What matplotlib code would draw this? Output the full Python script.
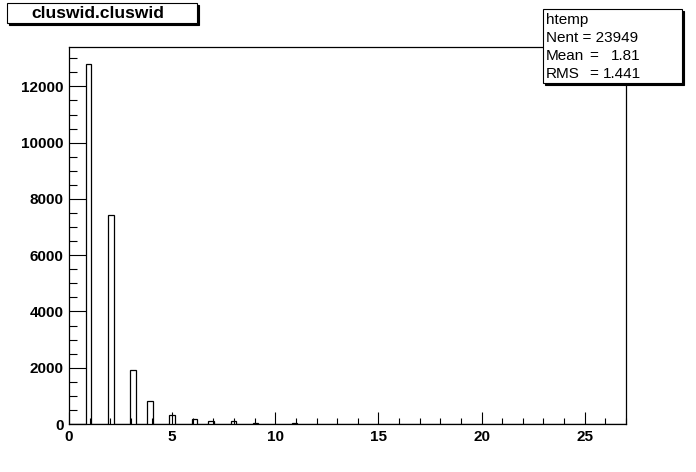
import numpy as np
import matplotlib.pyplot as plt
from matplotlib.patches import Rectangle
from matplotlib.ticker import MultipleLocator

plt.rcParams['font.family'] = ['Liberation Sans', 'DejaVu Sans']

# cluster width values and entries
cluswid = np.array([1, 2, 3, 4, 5, 6, 7, 8, 9, 11])
entries = np.array([12785, 7420, 1917, 816, 330, 180, 110, 110, 35, 35])
bin_edges = np.linspace(0, 27, 101)

x_ticks = [0, 5, 10, 15, 20, 25]
y_ticks = [0, 2000, 4000, 6000, 8000, 10000, 12000]

title = "cluswid.cluswid"
stats_names = ["Nent", "Mean", "RMS"]
stats_values = ["23949", "1.81", "1.441"]

W, H = 696, 472
fig = plt.figure(figsize=(W / 100, H / 100), dpi=100)

def fx(px):
    return px / W

def fy(py):
    return 1 - py / H

ax = fig.add_axes([fx(69), fy(424), fx(626) - fx(69), fy(47) - fy(424)])
ax.hist(cluswid, bins=bin_edges, weights=entries, histtype='step',
        color='black', linewidth=0.9)
ax.set_xlim(0, 27)
ax.set_ylim(0, 13400)

ax.set_xticks(x_ticks)
ax.set_yticks(y_ticks)
ax.xaxis.set_minor_locator(MultipleLocator(1))
ax.yaxis.set_minor_locator(MultipleLocator(500))
ax.tick_params(direction='in', top=False, right=False, width=0.8,
               labelsize=11, pad=4)
ax.tick_params(axis='x', which='major', length=8.6)
ax.tick_params(axis='x', which='minor', length=4.2, width=0.8, direction='in')
ax.tick_params(axis='y', which='major', length=12)
ax.tick_params(axis='y', which='minor', length=5.8, width=0.8, direction='in')
for lab in ax.get_xticklabels() + ax.get_yticklabels():
    lab.set_fontweight('bold')
for sp in ax.spines.values():
    sp.set_linewidth(0.9)

def box(x0, y0, x1, y1):
    # ROOT style pave with a dark shadow
    fig.add_artist(Rectangle((fx(x0 + 2), fy(y1 + 2)), fx(x1 - x0), fy(y0) - fy(y1),
                             transform=fig.transFigure, facecolor='black',
                             edgecolor='black', linewidth=0.8))
    fig.add_artist(Rectangle((fx(x0), fy(y1)), fx(x1 - x0), fy(y0) - fy(y1),
                             transform=fig.transFigure, facecolor='white',
                             edgecolor='black', linewidth=0.8))

box(7, 3, 197, 23)
fig.text(fx(98), fy(13), title, ha='center', va='center',
         fontsize=12.5, fontweight='bold')

box(543, 9, 682, 83)
fs = 11
fig.text(fx(546), fy(20), "htemp", ha='left', va='center', fontsize=fs)
fig.text(fx(546), fy(38), "Nent = 23949", ha='left', va='center', fontsize=fs)
for i, (name, val) in enumerate(zip(stats_names[1:], stats_values[1:])):
    yy = fy(56 + i * 18)
    fig.text(fx(546), yy, name, ha='left', va='center', fontsize=fs)
    fig.text(fx(589), yy, "=", ha='left', va='center', fontsize=fs)
    fig.text(fx(641), yy, val, ha='right', va='center', fontsize=fs)

fig.savefig("out.png", dpi=100)
